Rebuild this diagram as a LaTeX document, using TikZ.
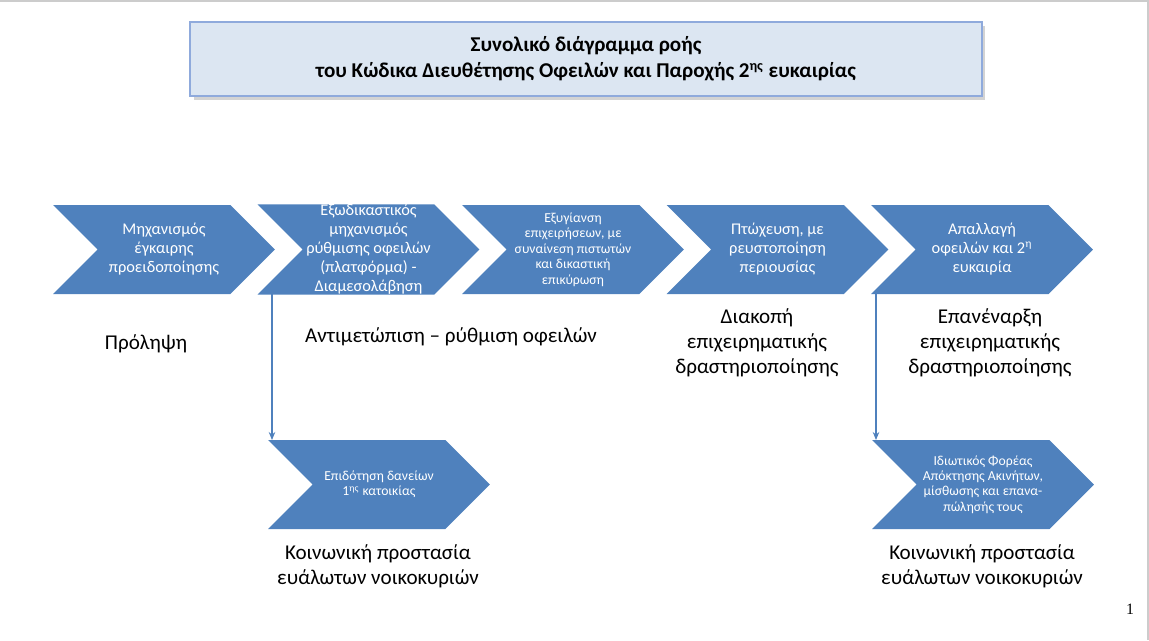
\documentclass[tikz,border=0pt]{standalone}
\usepackage{fontspec}
\setmainfont{Carlito}
\newfontfamily\pagenumfont{Liberation Serif}
\usetikzlibrary{positioning, arrows.meta, shapes.symbols, shadows, calc}

\definecolor{chevblue}{RGB}{79,129,189}
\definecolor{titlefill}{RGB}{220,230,242}
\definecolor{titleline}{RGB}{143,170,220}

\begin{document}
\begin{tikzpicture}[x=0.02cm, y=-0.02cm,
    chev/.style={signal, signal to=east, signal from=west, fill=chevblue, text=white,
                 minimum width=4.44cm, minimum height=1.78cm, inner sep=0pt, align=center,
                 font=\fontsize{9.3}{10.8}\selectfont},
    small/.style={font=\fontsize{7.8}{8.8}\selectfont},
    titlebox/.style={rectangle, draw=titleline, fill=titlefill, line width=0.8pt,
                     minimum width=15.84cm, minimum height=1.48cm, align=center,
                     font=\fontsize{12}{14.7}\selectfont\bfseries,
                     drop shadow={shadow xshift=2pt, shadow yshift=-2pt, opacity=0.35}},
    label/.style={align=center, font=\fontsize{12}{14.2}\selectfont},
    arrow/.style={-{Stealth[length=1.6mm, width=1.3mm]}, draw=chevblue, line width=0.6pt}
]
    \useasboundingbox (0,0) rectangle (1149,640);

    % Page frame
    \draw[gray!40, line width=0.8pt] (0,1) -- (1148,1) -- (1148,640);

    % Title
    \node[titlebox] (title) at (586,59) {Συνολικό διάγραμμα ροής\\του Κώδικα Διευθέτησης Οφειλών και Παροχής 2\textsuperscript{ης} ευκαιρίας};

    % Main flow
    \node[chev] (s1) at (164,249.5) {Μηχανισμός\\έγκαιρης\\προειδοποίησης};
    \node[chev] (s2) at (368.5,249.5) {Εξωδικαστικός\\μηχανισμός\\ρύθμισης οφειλών\\(πλατφόρμα) -\\Διαμεσολάβηση};
    \node[chev, small] (s3) at (573,249.5) {Εξυγίανση\\επιχειρήσεων, με\\συναίνεση πιστωτών\\και δικαστική\\επικύρωση};
    \node[chev] (s4) at (777.5,249.5) {Πτώχευση, με\\ρευστοποίηση\\περιουσίας};
    \node[chev] (s5) at (982,249.5) {Απαλλαγή\\οφειλών και 2\textsuperscript{η}\\ευκαιρία};

    % Phase labels
    \node[label] (prolipsi) at (146,344) {Πρόληψη};
    \node[label] (rythmisi) at (451,337) {Αντιμετώπιση – ρύθμιση οφειλών};
    \node[label] (diakopi) at (757,343) {Διακοπή\\επιχειρηματικής\\δραστηριοποίησης};
    \node[label] (epanarxi) at (990,343) {Επανέναρξη\\επιχειρηματικής\\δραστηριοποίησης};

    % Social protection
    \node[chev, small] (p1) at (379,484.5) {Επιδότηση δανείων\\1\textsuperscript{ης} κατοικίας};
    \node[chev, small] (p2) at (983,484.5) {Ιδιωτικός Φορέας\\Απόκτησης Ακινήτων,\\μίσθωσης και επανα-\\πώλησής τους};
    \node[label] (koin1) at (378,566.5) {Κοινωνική προστασία\\ευάλωτων νοικοκυριών};
    \node[label] (koin2) at (982,566.5) {Κοινωνική προστασία\\ευάλωτων νοικοκυριών};

    \draw[arrow] ($(s2.center)+(-96.5,44.5)$) -- ($(p1.center)+(-107,-44.5)$);
    \draw[arrow] ($(s5.center)+(-106,44.5)$) -- ($(p2.center)+(-107,-44.5)$);

    % Page number
    \node[font=\pagenumfont\fontsize{9}{11}\selectfont] (pagenum) at (1130,609) {1};

\end{tikzpicture}
\end{document}
